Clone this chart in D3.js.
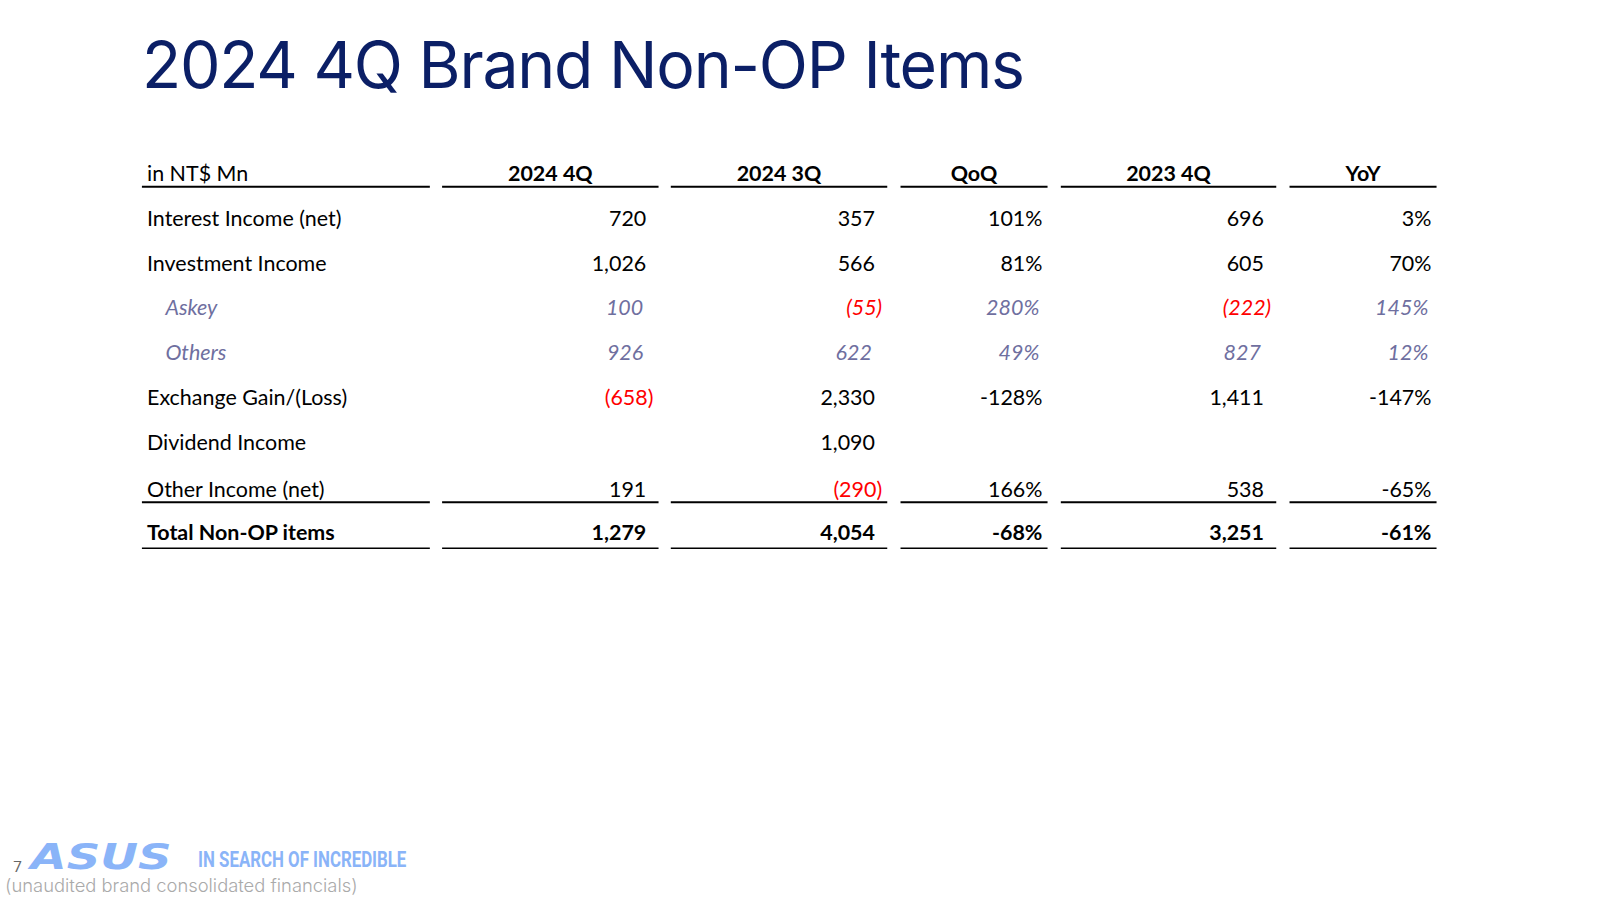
<!DOCTYPE html>
<html><head><meta charset="utf-8">
<script src="https://cdn.jsdelivr.net/npm/d3@7"></script>
<style>body{margin:0;background:#fff;}</style>
</head><body>
<script>
const columns = ['2024 4Q', '2024 3Q', 'QoQ', '2023 4Q', 'YoY'];
const rowLabels = ['Interest Income (net)', 'Investment Income', 'Askey', 'Others',
  'Exchange Gain/(Loss)', 'Dividend Income', 'Other Income (net)', 'Total Non-OP items'];
const rowKind = ['normal', 'normal', 'sub', 'sub', 'normal', 'normal', 'normal', 'total'];
const values = [
  ['720', '357', '101%', '696', '3%'],
  ['1,026', '566', '81%', '605', '70%'],
  ['100', '(55)', '280%', '(222)', '145%'],
  ['926', '622', '49%', '827', '12%'],
  ['(658)', '2,330', '-128%', '1,411', '-147%'],
  ['', '1,090', '', '', ''],
  ['191', '(290)', '166%', '538', '-65%'],
  ['1,279', '4,054', '-68%', '3,251', '-61%']
];

const W = 1600, H = 900;
const svg = d3.select('body').append('svg').attr('width', W).attr('height', H)
  .append('g').attr('transform', 'scale(1.021)');
const font = 'Lato, "Open Sans", sans-serif';

svg.append('text').attr('x', 139).attr('y', 86)
  .style('font-family', 'Inter, sans-serif').style('font-size', '63px')
  .style('letter-spacing', '-1.2px').attr('fill', '#0b1f66')
  .text('2024 4Q Brand Non-OP Items');

// column spans [left, right]
const spans = [[433, 645], [657, 869], [882, 1026], [1039, 1250], [1263, 1407]];
const labelSpan = [139, 421];
const yPos = [213, 257, 301, 345, 389, 433, 479, 521];

// header
svg.append('text').attr('x', 144).attr('y', 177).style('font-family', font)
  .style('font-size', '21px').text('in NT$ Mn');
columns.forEach((c, i) => {
  svg.append('text').attr('x', (spans[i][0] + spans[i][1]) / 2).attr('y', 177)
    .attr('text-anchor', 'middle').style('font-family', font).style('font-size', '21px')
    .style('font-weight', 'bold').text(c);
});
const allSpans = [labelSpan].concat(spans);
function rule(y, w) {
  svg.append('g').selectAll('line').data(allSpans).join('line')
    .attr('x1', d => d[0]).attr('x2', d => d[1]).attr('y1', y).attr('y2', y)
    .attr('stroke', '#000').attr('stroke-width', w);
}
rule(183, 2); rule(492, 2); rule(537, 1.5);

rowLabels.forEach((lab, r) => {
  const kind = rowKind[r];
  const y = yPos[r] + 8;
  const col = kind === 'sub' ? '#6f6f9f' : '#000';
  svg.append('text').attr('x', kind === 'sub' ? 162 : 144).attr('y', y)
    .style('font-family', font).style('font-size', '21px')
    .style('font-style', kind === 'sub' ? 'italic' : 'normal')
    .style('font-weight', kind === 'total' ? 'bold' : 'normal')
    .attr('fill', col).text(lab);
  values[r].forEach((v, i) => {
    if (!v) return;
    const neg = v.startsWith('(');
    const rx = spans[i][1] - (i === 2 || i === 4 ? 5 : 12) + (neg ? 7 : 0) - (kind === 'sub' && !neg ? 3 : 0);
    svg.append('text').attr('x', rx).attr('y', y).attr('text-anchor', 'end')
      .style('font-family', font).style('font-size', '21px')
      .style('font-style', kind === 'sub' ? 'italic' : 'normal')
      .style('font-weight', kind === 'total' ? 'bold' : 'normal')
      .attr('fill', neg ? '#ff0000' : col).text(v);
  });
});

// footer
svg.append('text').attr('x', 13).attr('y', 854).style('font-family', 'Roboto, sans-serif')
  .style('font-size', '15px').attr('fill', '#666').text('7');
svg.append('text').attr('x', 30).attr('y', 851).style('font-family', '"DejaVu Sans", sans-serif')
  .style('font-size', '34px').style('font-weight', 'bold').style('font-style', 'italic')
  .attr('textLength', 138).attr('lengthAdjust', 'spacingAndGlyphs')
  .attr('fill', '#8ab4f8').text('ASUS');
svg.append('text').attr('x', 194).attr('y', 849).style('font-family', '"Liberation Sans Narrow", "Roboto", sans-serif')
  .style('font-size', '22px').style('font-weight', 'bold')
  .attr('textLength', 204).attr('lengthAdjust', 'spacingAndGlyphs')
  .attr('fill', '#8ab4f8').text('IN SEARCH OF INCREDIBLE');
svg.append('text').attr('x', 5).attr('y', 874).style('font-family', 'Inter, sans-serif')
  .style('font-size', '18px').style('font-weight', '300').attr('fill', '#aaa')
  .text('(unaudited brand consolidated financials)');
</script>
</body></html>
